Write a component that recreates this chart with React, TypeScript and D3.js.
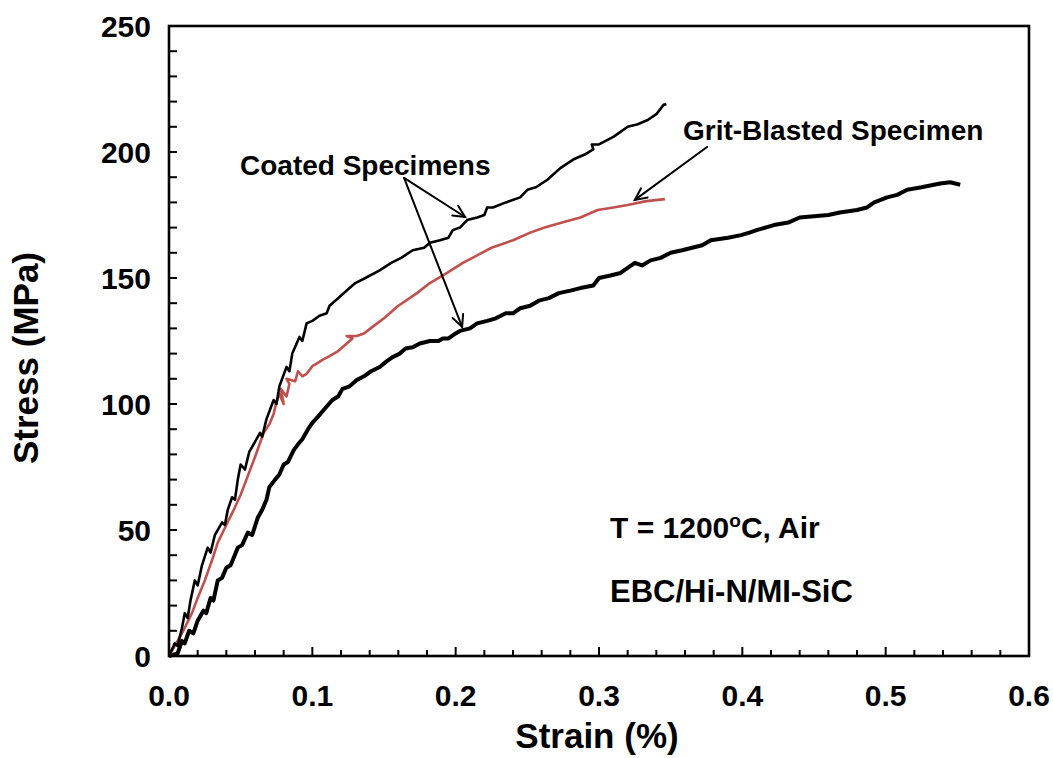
import React from "react";
import * as d3 from "d3";

const xTicksMajor = [0, 0.1, 0.2, 0.3, 0.4, 0.5, 0.6];
const xTickLabels = ["0.0", "0.1", "0.2", "0.3", "0.4", "0.5", "0.6"];
const yTicksMajor = [0, 50, 100, 150, 200, 250];
const yTickLabels = ["0", "50", "100", "150", "200", "250"];

// Coated specimen 1 (upper curve)
const coatedUpper: [number, number][] = [
  [0, 0], [0.004, 5], [0.006, 4], [0.009, 11], [0.011, 17], [0.013, 15], [0.015, 22], [0.018, 30],
  [0.02, 28], [0.023, 36], [0.027, 43], [0.029, 41], [0.032, 48], [0.037, 53], [0.039, 52],
  [0.041, 58], [0.044, 63], [0.046, 62], [0.048, 70], [0.05, 76], [0.053, 74], [0.056, 81],
  [0.0635, 88.5], [0.065, 87], [0.068, 94], [0.073, 101.6], [0.075, 100], [0.077, 107],
  [0.082, 114.7], [0.084, 113], [0.086, 120], [0.091, 126.6], [0.093, 125], [0.096, 132],
  [0.1, 133], [0.105, 135], [0.11, 136], [0.112, 139], [0.114, 140], [0.118, 142], [0.124, 145],
  [0.13, 148], [0.137, 150], [0.147, 153], [0.155, 156], [0.162, 158], [0.17, 161], [0.178, 162],
  [0.182, 164], [0.189, 165], [0.195, 166], [0.198, 169], [0.203, 170], [0.208, 173], [0.215, 174],
  [0.22, 175], [0.222, 178], [0.226, 178], [0.235, 180], [0.245, 182], [0.25, 185], [0.256, 186],
  [0.264, 189], [0.273, 193.6], [0.282, 197], [0.29, 199], [0.296, 201], [0.295, 203], [0.3, 203],
  [0.31, 206], [0.315, 208], [0.32, 210], [0.327, 211], [0.334, 212.7], [0.34, 215], [0.345, 218.7],
  [0.347, 219],
];

// Grit-blasted specimen
const gritBlasted: [number, number][] = [
  [0, 0], [0.005, 5], [0.01, 10], [0.016, 17], [0.02, 23], [0.025, 30], [0.03, 38], [0.034, 45],
  [0.04, 52], [0.046, 59], [0.05, 64], [0.054, 70], [0.06, 79], [0.066, 88.5], [0.07, 92],
  [0.073, 96], [0.075, 101], [0.077, 104], [0.08, 100], [0.078, 106], [0.082, 103], [0.084, 108],
  [0.082, 110], [0.088, 109], [0.09, 113], [0.093, 111], [0.096, 112], [0.1, 115], [0.103, 116],
  [0.107, 117.5], [0.112, 119], [0.118, 121], [0.124, 124], [0.128, 126], [0.124, 127], [0.131, 127],
  [0.136, 128], [0.142, 130.6], [0.15, 134], [0.16, 139], [0.173, 144], [0.182, 148], [0.194, 152],
  [0.205, 156], [0.215, 159], [0.225, 162], [0.24, 165], [0.252, 168], [0.262, 170], [0.273, 171.8],
  [0.287, 174], [0.299, 177], [0.31, 178], [0.32, 179], [0.333, 180.5], [0.346, 181.3],
];

// Coated specimen 2 (lower curve)
const coatedLower: [number, number][] = [
  [0, 0], [0.006, 1], [0.009, 6], [0.011, 5], [0.014, 10], [0.017, 9], [0.02, 14], [0.024, 18],
  [0.026, 17], [0.029, 23], [0.031, 22], [0.034, 30], [0.037, 31], [0.04, 35], [0.043, 36],
  [0.048, 43], [0.051, 44], [0.055, 49], [0.058, 48], [0.062, 55], [0.065, 58], [0.068, 62],
  [0.07, 67], [0.074, 70], [0.077, 72], [0.08, 76], [0.083, 77], [0.087, 81.7], [0.09, 84],
  [0.093, 86], [0.097, 90], [0.1, 92.5], [0.104, 95], [0.107, 97], [0.11, 99], [0.114, 101.6],
  [0.118, 103], [0.121, 106], [0.126, 107], [0.131, 109.5], [0.136, 111], [0.141, 113],
  [0.147, 114.7], [0.152, 117], [0.156, 118.6], [0.161, 120], [0.165, 122], [0.17, 122.5],
  [0.175, 124], [0.182, 125], [0.188, 125], [0.191, 126], [0.195, 126], [0.2, 128], [0.203, 129],
  [0.21, 130], [0.215, 132], [0.222, 133], [0.228, 134], [0.235, 136], [0.24, 136], [0.245, 138],
  [0.252, 139], [0.258, 141], [0.265, 142], [0.272, 144], [0.28, 145], [0.287, 146], [0.296, 147],
  [0.3, 150], [0.308, 151], [0.315, 152], [0.32, 154], [0.325, 156], [0.33, 155], [0.336, 157],
  [0.343, 158], [0.35, 160], [0.358, 161], [0.365, 162], [0.372, 163], [0.378, 165], [0.39, 166],
  [0.399, 167], [0.405, 168], [0.41, 169], [0.422, 171], [0.432, 172], [0.44, 174], [0.45, 174.5],
  [0.46, 175], [0.468, 176], [0.48, 177], [0.487, 178], [0.492, 180], [0.501, 182], [0.508, 183],
  [0.515, 185], [0.525, 186], [0.538, 187.5], [0.545, 188], [0.552, 187],
];

// annotation arrows in data coords: [fromX, fromY, toX, toY]
const coatedArrows: [number, number, number, number][] = [
  [0.164, 189.7, 0.2066, 174.2],
  [0.164, 189.7, 0.2045, 130.6],
];
const gritArrow: [number, number, number, number] = [0.3754, 202, 0.325, 181];

const W = 1053;
const H = 758;
const FONT = "'Liberation Sans', Arial, Helvetica, sans-serif";

export default function App() {
  const x = d3.scaleLinear().domain([0, 0.6]).range([169, 1029]);
  const y = d3.scaleLinear().domain([0, 250]).range([656, 26]);
  const line = d3
    .line<[number, number]>()
    .x((d) => x(d[0]))
    .y((d) => y(d[1]));

  const xMinor = d3.range(0, 31).map((i) => i * 0.02);
  const yMinor = d3.range(0, 26).map((i) => i * 10);

  const arrow = (a: [number, number, number, number], key: string) => {
    const x1 = x(a[0]), y1 = y(a[1]), x2 = x(a[2]), y2 = y(a[3]);
    const ang = Math.atan2(y2 - y1, x2 - x1);
    const L = 13, spread = Math.PI / 7;
    const h1 = [x2 - L * Math.cos(ang - spread), y2 - L * Math.sin(ang - spread)];
    const h2 = [x2 - L * Math.cos(ang + spread), y2 - L * Math.sin(ang + spread)];
    return (
      <g key={key} stroke="#000" strokeWidth={2} fill="none" strokeLinecap="round">
        <line x1={x1} y1={y1} x2={x2} y2={y2} />
        <polyline points={`${h1[0]},${h1[1]} ${x2},${y2} ${h2[0]},${h2[1]}`} />
      </g>
    );
  };

  return (
    <svg
      width={W}
      height={H}
      style={{ position: "absolute", left: 0, top: 0, background: "#fff" }}
      fontFamily={FONT}
      fontWeight="bold"
    >
      <rect x={0} y={0} width={W} height={H} fill="#fff" />
      {/* curves */}
      <path d={line(coatedLower) || ""} fill="none" stroke="#000" strokeWidth={4} strokeLinejoin="round" />
      <path d={line(gritBlasted) || ""} fill="none" stroke="#c0504d" strokeWidth={2.6} strokeLinejoin="round" />
      <path d={line(coatedUpper) || ""} fill="none" stroke="#000" strokeWidth={2.6} strokeLinejoin="round" />

      {/* frame */}
      <rect x={169} y={26} width={1029 - 169} height={656 - 26} fill="none" stroke="#000" strokeWidth={2.6} />

      {/* x ticks */}
      {xMinor.map((v, i) => (
        <line key={"xm" + i} x1={x(v)} x2={x(v)} y1={656} y2={656 - (i % 5 === 0 ? 9 : 6)} stroke="#000" strokeWidth={2} />
      ))}
      {/* y ticks */}
      {yMinor.map((v, i) => (
        <line key={"ym" + i} x1={169} x2={169 + 8} y1={y(v)} y2={y(v)} stroke="#000" strokeWidth={2} />
      ))}

      {xTicksMajor.map((v, i) => (
        <text key={"xl" + i} x={x(v)} y={706} textAnchor="middle" fontSize={30} fill="#000">
          {xTickLabels[i]}
        </text>
      ))}
      {yTicksMajor.map((v, i) => (
        <text key={"yl" + i} x={151} y={y(v) + 11} textAnchor="end" fontSize={30} fill="#000">
          {yTickLabels[i]}
        </text>
      ))}

      <text x={597} y={748} textAnchor="middle" fontSize={35} fill="#000">
        Strain (%)
      </text>
      <text transform="translate(38,358) rotate(-90)" textAnchor="middle" fontSize={35} fill="#000">
        Stress (MPa)
      </text>

      {/* annotations */}
      <text x={240} y={175} fontSize={28} fill="#000">Coated Specimens</text>
      <text x={683} y={140} fontSize={28} fill="#000">Grit-Blasted Specimen</text>
      {coatedArrows.map((a, i) => arrow(a, "ca" + i))}
      {arrow(gritArrow, "ga")}

      <text x={610} y={538} fontSize={30} fill="#000">
        T = 1200<tspan dy={-11} fontSize={19}>o</tspan>
        <tspan dy={11}>C, Air</tspan>
      </text>
      <text x={610} y={602} fontSize={31} fill="#000">EBC/Hi-N/MI-SiC</text>
    </svg>
  );
}
